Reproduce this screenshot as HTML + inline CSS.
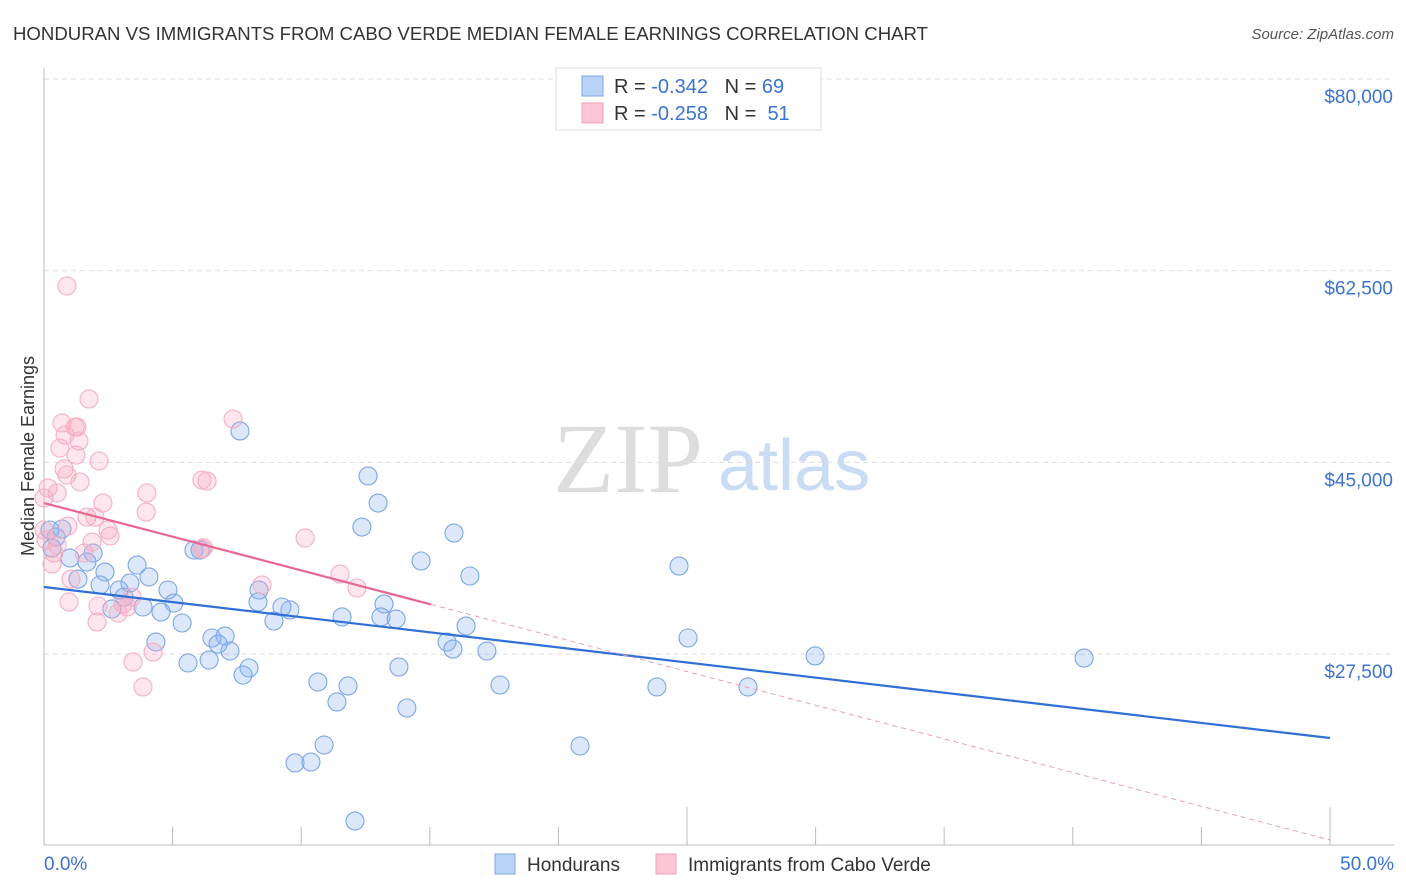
<!DOCTYPE html>
<html><head><meta charset="utf-8"><style>
body{margin:0;background:#fff;font-family:"Liberation Sans",sans-serif;}
#wrap{position:relative;width:1406px;height:892px;overflow:hidden;}
svg text{font-family:"Liberation Sans",sans-serif;}
</style></head><body>
<div id="wrap">
<svg id="svg" width="1406" height="892">
<text x="13" y="40" font-size="18" fill="#333" textLength="915" lengthAdjust="spacingAndGlyphs">HONDURAN VS IMMIGRANTS FROM CABO VERDE MEDIAN FEMALE EARNINGS CORRELATION CHART</text>
<text x="1394" y="39" font-size="15" fill="#555" font-style="italic" text-anchor="end">Source: ZipAtlas.com</text>
<text x="34" y="456" font-size="18" fill="#333" text-anchor="middle" transform="rotate(-90 34 456)">Median Female Earnings</text>
<g>
<text x="553" y="492" font-size="100" fill="#ddd" font-family="Liberation Serif" style="font-family:'Liberation Serif',serif">ZIP</text>
<text x="718" y="490" font-size="72" fill="#c9dcf3">atlas</text>
</g>
<g id="grid"></g>
<g id="axes"></g>
<g id="marks"></g>
<g id="trends"></g>
<g>
<rect x="556" y="68" width="265" height="62" fill="#fff" stroke="#ddd"/>
<rect x="582" y="76" width="21" height="20" fill="#b9d3f6" stroke="#7aa6e6"/>
<rect x="582" y="103" width="21" height="20" fill="#fcc6d6" stroke="#f0a0b8"/>
<text x="614" y="93" font-size="20" fill="#333">R = <tspan fill="#3b73d1">-0.342</tspan>&#160;&#160;&#160;N = <tspan fill="#3b73d1">69</tspan></text>
<text x="614" y="120" font-size="20" fill="#333">R = <tspan fill="#3b73d1">-0.258</tspan>&#160;&#160;&#160;N = &#160;<tspan fill="#3b73d1">51</tspan></text>
</g>
<g>
<rect x="495" y="854" width="20" height="20" fill="#b9d3f6" stroke="#7aa6e6"/>
<text x="527" y="871" font-size="19" fill="#333">Hondurans</text>
<rect x="656" y="854" width="20" height="20" fill="#fcc6d6" stroke="#f0a0b8"/>
<text x="688" y="871" font-size="19" fill="#333">Immigrants from Cabo Verde</text>
</g>
</svg>
</div>
<script>
const xTicks=[0,5,10,15,20,25,30,35,40,45,50];
const yTicks=[80000,62500,45000,27500];
const yTickLabels=["$80,000","$62,500","$45,000","$27,500"];
const hondX=[7.62,12.60,12.99,12.36,15.94,14.66,16.56,24.69,25.04,29.98,40.44,23.83,27.37,20.84,17.73,17.22,15.67,15.90,16.41,13.80,14.11,13.22,13.10,13.69,11.59,10.65,11.82,11.39,10.89,9.76,10.38,12.09,9.56,9.25,8.94,8.32,8.36,7.97,7.74,7.23,7.04,6.53,6.77,6.42,5.60,5.83,6.07,5.37,5.05,4.82,4.55,4.35,4.08,3.85,3.62,3.34,3.11,2.92,2.64,2.37,2.18,1.91,1.67,1.32,1.01,0.70,0.47,0.31,0.23];
const hondY=[47.87,43.76,41.29,39.10,38.55,36.00,34.63,35.54,28.97,27.33,27.14,24.50,24.50,19.11,24.68,27.78,28.60,27.96,30.06,26.32,22.58,32.07,30.89,30.70,30.89,24.95,24.59,23.13,19.20,17.56,17.65,12.26,31.53,31.80,30.52,32.26,33.35,26.23,25.59,27.78,29.15,28.97,28.42,26.96,26.69,37.0,37.0,30.34,32.16,33.35,31.34,28.60,34.54,31.80,35.63,33.99,32.71,33.35,31.62,34.99,33.81,36.73,35.91,34.35,36.27,38.92,38.19,37.19,38.83];
const capeX=[0.89,1.75,7.35,0.70,1.21,1.28,0.82,1.36,0.62,1.24,2.14,0.78,0.89,1.40,6.34,6.14,0.16,0.51,0.0,4.00,2.29,3.97,1.67,1.98,0.93,0.0,0.51,1.56,2.57,1.87,10.15,6.14,0.39,0.31,8.48,11.51,12.17,3.42,1.05,0.97,2.10,3.07,2.06,2.88,3.23,4.24,3.46,3.85,0.08,2.49,6.2];
const capeY=[61.10,50.79,48.96,48.60,48.23,48.23,47.50,46.95,46.31,45.67,45.13,44.40,43.85,43.21,43.30,43.39,42.66,42.21,41.75,42.21,41.29,40.47,40.01,40.01,39.19,38.83,37.46,36.73,38.28,37.73,38.10,37.09,36.73,35.72,33.81,34.81,33.53,32.71,34.35,32.26,31.89,32.07,30.43,31.25,31.80,27.69,26.78,24.50,37.92,38.83,37.2];
const hondTrend=[33625,19840];
const capeTrend=[41293,10530];
const capeSolidEnd=15.05;

const NS="http://www.w3.org/2000/svg";
const X=v=>44+v/50*1286;
const Y=v=>79+(80000-v)*191.7/17500;
function mk(tag,attrs,parent){const e=document.createElementNS(NS,tag);for(const k in attrs)e.setAttribute(k,attrs[k]);document.getElementById(parent).appendChild(e);return e;}
yTicks.forEach((t,i)=>{
 const l=mk('line',{x1:44,x2:1394,y1:Y(t),y2:Y(t),stroke:'#ddd','stroke-dasharray':'5,4'},'grid');
 
 
 const tx=mk('text',{x:1393,y:Y(t)+24,'font-size':19,fill:'#3b73d1','text-anchor':'end'},'axes');
 tx.textContent=yTickLabels[i];
 
 
});
const ax=mk('line',{x1:44,x2:1394,y1:845,y2:845,stroke:'#bbb'},'axes');


const ay=mk('line',{x1:44,x2:44,y1:68,y2:845,stroke:'#bbb'},'axes');


xTicks.forEach(t=>{
 const tall=(t===25||t===50);
 const tk=mk('line',{x1:X(t),x2:X(t),y1:tall?807:827,y2:845,stroke:'#bbb'},'axes');
 
 
});
const l0=mk('text',{x:44,y:870,'font-size':19,fill:'#3b73d1'},'axes');l0.textContent='0.0%';


const l1=mk('text',{x:1394,y:870,'font-size':19,fill:'#3b73d1','text-anchor':'end'},'axes');l1.textContent='50.0%';


hondX.forEach((v,i)=>{
 const c=mk('circle',{cx:X(v),cy:Y(hondY[i]*1000),r:9,fill:'rgba(140,180,240,0.3)',stroke:'#7aa6e6','stroke-width':1.1},'marks');
 
 
});
capeX.forEach((v,i)=>{
 const c=mk('circle',{cx:X(v),cy:Y(capeY[i]*1000),r:9,fill:'rgba(248,165,190,0.28)',stroke:'#f4b0c4','stroke-width':1.1},'marks');
 
 
});
const cy=x=>capeTrend[0]+(capeTrend[1]-capeTrend[0])*x/50;
const hl=mk('line',{x1:X(0),y1:Y(hondTrend[0]),x2:X(50),y2:Y(hondTrend[1]),stroke:'#2f6fd6','stroke-width':2.2},'trends');


const pl=mk('line',{x1:X(0),y1:Y(cy(0)),x2:X(capeSolidEnd),y2:Y(cy(capeSolidEnd)),stroke:'#e8668f','stroke-width':2.2},'trends');


const pd=mk('line',{x1:X(capeSolidEnd),y1:Y(cy(capeSolidEnd)),x2:X(50),y2:Y(cy(50)),stroke:'#e8a0b8','stroke-width':1,'stroke-dasharray':'5,4'},'trends');


</script>
</body></html>
